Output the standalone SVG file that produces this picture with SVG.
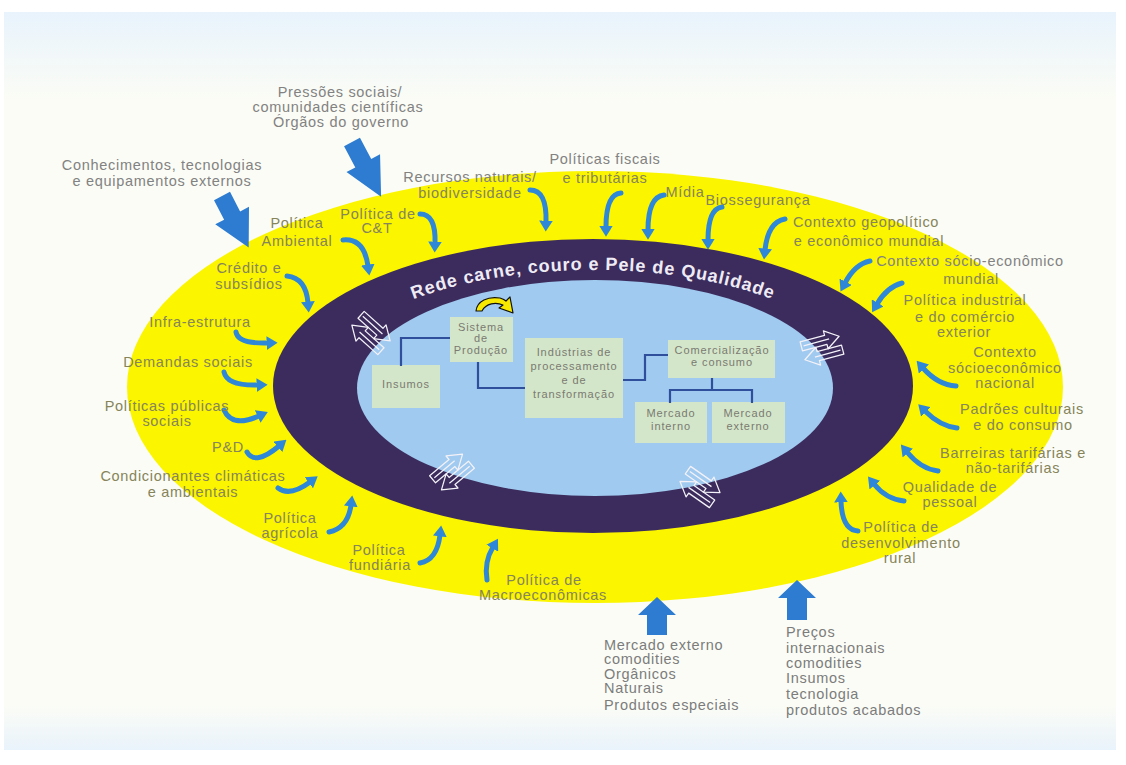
<svg xmlns="http://www.w3.org/2000/svg" width="1126" height="765" viewBox="0 0 1126 765">
<defs>
<style>
.lb{font-family:"Liberation Sans",Arial,sans-serif;font-size:14.5px;letter-spacing:0.7px;text-anchor:middle}
.w{fill:#828282}
.y{fill:#86845a}
.ls{font-family:"Liberation Sans",Arial,sans-serif;font-size:14.5px;letter-spacing:0.7px;fill:#7c7c7c}
.bx{fill:#d4e6c9}
.bt{font-family:"Liberation Sans",Arial,sans-serif;font-size:11px;letter-spacing:0.9px;fill:#7a7a72;text-anchor:middle}
.cn{fill:none;stroke:#2f4f9c;stroke-width:2.2}
.ba{fill:none;stroke:#2f87d8;stroke-width:5;stroke-linecap:round;marker-end:url(#ah)}
.big{fill:#2d7cd1}
.dw{fill:none;stroke:#f4f2f8;stroke-width:1.1;stroke-linejoin:round}
.title{font-family:"Liberation Sans",Arial,sans-serif;font-size:18px;font-weight:bold;letter-spacing:0.9px;fill:#efebf5}
</style>
<linearGradient id="pg" x1="0" y1="0" x2="0" y2="1">
<stop offset="0" stop-color="#e8f3fc"/>
<stop offset="0.06" stop-color="#f2f8f9"/>
<stop offset="0.12" stop-color="#fbfcf5"/>
<stop offset="0.94" stop-color="#fbfcf6"/>
<stop offset="1" stop-color="#e9f3fb"/>
</linearGradient>
<marker id="ah" viewBox="0 0 8 10" refX="1" refY="5" markerWidth="2.2" markerHeight="2.75" orient="auto" markerUnits="strokeWidth">
<path d="M0,0 L8,5 L0,10 z" fill="#2f87d8"/>
</marker>
<g id="dbl">
<path class="dw" d="M-17,-10 L5,-10 L5,-14 L17,-6 L5,2 L5,-2 L-17,-2 Z"/>
<path class="dw" d="M17,2 L-5,2 L-5,-2 L-17,6 L-5,14 L-5,10 L17,10 Z"/>
<path class="dw" d="M-15,-6 L8,-6 M15,6 L-8,6"/>
</g>
<path id="tp" d="M321,388 A272,118 0 0 1 865,388" fill="none"/>
</defs>

<rect width="1126" height="765" fill="#ffffff"/>
<rect x="4" y="12" width="1112" height="738" fill="url(#pg)"/>

<g id="rings">
<ellipse cx="595" cy="387" rx="468" ry="216" fill="#fbf500"/>
<ellipse cx="593" cy="386" rx="320" ry="147" fill="#3b2c5d"/>
<ellipse cx="595" cy="388" rx="238" ry="108" fill="#a0caef"/>
<text class="title"><textPath href="#tp" startOffset="50%" text-anchor="middle">Rede carne, couro e Pele de Qualidade</textPath></text>
</g>

<g id="exchange-arrows">
<use href="#dbl" transform="translate(371,333) rotate(42) scale(1.15)"/>
<use href="#dbl" transform="translate(822,348) rotate(-15) scale(1.15)"/>
<use href="#dbl" transform="translate(452,472) rotate(-40) scale(1.15)"/>
<use href="#dbl" transform="translate(700,487) rotate(35) scale(1.15)"/>
</g>

<g id="cycle-arrow">
<path d="M476,311 C477,301 488,296 500,298 C503,299 505,300 506,301 L510,297 L513,313 L499,308 L503,305 C496,302 486,303 482,311 Z" fill="#f7ea00" stroke="#111" stroke-width="1.2" stroke-linejoin="round"/>
</g>

<g id="node-insumos">
<rect class="bx" x="372" y="365" width="68" height="43"/>
<text class="bt" x="406" y="388">Insumos</text>
</g>
<g id="node-sistema">
<rect class="bx" x="450" y="317" width="63" height="45"/>
<text class="bt" x="481" y="331">Sistema</text>
<text class="bt" x="481" y="342">de</text>
<text class="bt" x="481" y="354">Produção</text>
</g>
<g id="node-industrias">
<rect class="bx" x="525" y="338" width="98" height="80"/>
<text class="bt" x="574" y="356">Indústrias de</text>
<text class="bt" x="574" y="370">processamento</text>
<text class="bt" x="574" y="384">e  de</text>
<text class="bt" x="574" y="398">transformação</text>
</g>
<g id="node-comercializacao">
<rect class="bx" x="668" y="340" width="107" height="38"/>
<text class="bt" x="722" y="354">Comercialização</text>
<text class="bt" x="722" y="366">e consumo</text>
</g>
<g id="node-mercado-interno">
<rect class="bx" x="635" y="402" width="72" height="41"/>
<text class="bt" x="671" y="417">Mercado</text>
<text class="bt" x="671" y="430">interno</text>
</g>
<g id="node-mercado-externo">
<rect class="bx" x="712" y="402" width="73" height="41"/>
<text class="bt" x="748" y="417">Mercado</text>
<text class="bt" x="748" y="430">externo</text>
</g>

<g id="connectors">
<polyline class="cn" points="450,338 401,338 401,366"/>
<polyline class="cn" points="478,362 478,388 525,388"/>
<polyline class="cn" points="623,380 645,380 645,355 668,355"/>
<polyline class="cn" points="712,378 712,390"/>
<polyline class="cn" points="670,403 670,390 752,390 752,403"/>

<path class="big" d="M0,-9 L22,-9 L22,-19 L58,0 L22,19 L22,9 L0,9 Z" transform="translate(222,196) rotate(62.6)"/>
<path class="big" d="M0,-9 L24,-9 L24,-19 L62,0 L24,19 L24,9 L0,9 Z" transform="translate(352,142) rotate(62)"/>
<path class="big" d="M647,635 L647,615 L638,615 L657,597 L676,615 L667,615 L667,635 Z"/>
<path class="big" d="M787,620 L787,598 L778,598 L797,580 L816,598 L807,598 L807,620 Z"/>

<path class="ba" d="M343,240 Q364,238 368,266"/>
<path class="ba" d="M420,214 Q436,214 435,243"/>
<path class="ba" d="M287,276 Q306,278 308,303"/>
<path class="ba" d="M530,190 Q547,190 546,222"/>
<path class="ba" d="M621,193 Q606,194 606,227"/>
<path class="ba" d="M664,195 Q648,197 648,230"/>
<path class="ba" d="M722,207 Q708,209 708,240"/>
<path class="ba" d="M785,219 Q768,222 765,250"/>
<path class="ba" d="M870,261 Q855,264 845,283"/>
<path class="ba" d="M902,283 Q887,287 877,304"/>
<path class="ba" d="M956,386 Q938,385 923,368"/>
<path class="ba" d="M957,428 Q940,426 925,411"/>
<path class="ba" d="M938,471 Q921,469 907,452"/>
<path class="ba" d="M904,501 Q886,499 874,484"/>
<path class="ba" d="M858,531 Q842,530 841,501"/>
<path class="ba" d="M236,332 Q238,344 268,343"/>
<path class="ba" d="M224,372 Q227,386 258,385"/>
<path class="ba" d="M224,410 Q232,428 259,416"/>
<path class="ba" d="M247,452 Q255,466 279,446"/>
<path class="ba" d="M278,488 Q290,497 310,482"/>
<path class="ba" d="M329,532 Q348,528 351,505"/>
<path class="ba" d="M420,563 Q437,560 440,535"/>
<path class="ba" d="M487,580 Q484,562 493,547"/>
</g>

<g id="label-pressoes">
<text class="lb w" x="340" y="97">Pressões sociais/</text>
<text class="lb w" x="338" y="112">comunidades científicas</text>
<text class="lb w" x="341" y="127">Órgãos do governo</text>
</g>
<g id="label-conhecimentos">
<text class="lb w" x="162" y="170">Conhecimentos, tecnologias</text>
<text class="lb w" x="162" y="186">e equipamentos externos</text>
</g>
<g id="label-ambiental">
<text class="lb y" x="297" y="228">Política</text>
<text class="lb y" x="297" y="246">Ambiental</text>
</g>
<g id="label-ct">
<text class="lb y" x="378" y="219">Política de</text>
<text class="lb y" x="377" y="233">C&amp;T</text>
</g>
<g id="label-credito">
<text class="lb y" x="249" y="273">Crédito e</text>
<text class="lb y" x="249" y="289">subsídios</text>
</g>
<g id="label-recursos">
<text class="lb w" x="470" y="182">Recursos naturais/</text>
<text class="lb y" x="470" y="198">biodiversidade</text>
</g>
<g id="label-fiscais">
<text class="lb w" x="605" y="164">Políticas fiscais</text>
<text class="lb y" x="605" y="183">e tributárias</text>
</g>
<g id="label-midia">
<text class="lb y" x="685" y="197">Mídia</text>
</g>
<g id="label-bio">
<text class="lb y" x="758" y="205">Biossegurança</text>
</g>
<g id="label-geopolitico">
<text class="lb y" x="866" y="227">Contexto geopolítico</text>
<text class="lb y" x="869" y="246">e econômico mundial</text>
</g>
<g id="label-socio-mundial">
<text class="lb w" x="970" y="266">Contexto sócio-econômico</text>
<text class="lb y" x="971" y="284">mundial</text>
</g>
<g id="label-industrial">
<text class="lb y" x="965" y="305">Política industrial</text>
<text class="lb y" x="965" y="322">e do comércio</text>
<text class="lb y" x="964" y="337">exterior</text>
</g>
<g id="label-nacional">
<text class="lb y" x="1005" y="357">Contexto</text>
<text class="lb y" x="1005" y="373">sócioeconômico</text>
<text class="lb y" x="1005" y="388">nacional</text>
</g>
<g id="label-padroes">
<text class="lb y" x="1022" y="414">Padrões culturais</text>
<text class="lb y" x="1023" y="430">e do consumo</text>
</g>
<g id="label-barreiras">
<text class="lb y" x="1013" y="458">Barreiras tarifárias e</text>
<text class="lb y" x="1013" y="473">não-tarifárias</text>
</g>
<g id="label-qualidade">
<text class="lb y" x="950" y="492">Qualidade de</text>
<text class="lb y" x="950" y="507">pessoal</text>
</g>
<g id="label-rural">
<text class="lb y" x="901" y="532">Política de</text>
<text class="lb y" x="901" y="548">desenvolvimento</text>
<text class="lb y" x="900" y="563">rural</text>
</g>
<g id="label-infra">
<text class="lb y" x="200" y="327">Infra-estrutura</text>
</g>
<g id="label-demandas">
<text class="lb y" x="188" y="367">Demandas sociais</text>
</g>
<g id="label-publicas">
<text class="lb y" x="167" y="411">Políticas públicas</text>
<text class="lb y" x="167" y="426">sociais</text>
</g>
<g id="label-pd">
<text class="lb y" x="228" y="452">P&amp;D</text>
</g>
<g id="label-condicionantes">
<text class="lb y" x="193" y="481">Condicionantes climáticas</text>
<text class="lb y" x="193" y="497">e ambientais</text>
</g>
<g id="label-agricola">
<text class="lb y" x="290" y="523">Política</text>
<text class="lb y" x="290" y="538">agrícola</text>
</g>
<g id="label-fundiaria">
<text class="lb y" x="379" y="555">Política</text>
<text class="lb y" x="380" y="570">fundiária</text>
</g>
<g id="label-macro">
<text class="lb y" x="544" y="585">Política de</text>
<text class="lb y" x="543" y="600">Macroeconômicas</text>
</g>
<g id="label-mercado-externo">
<text class="ls" x="604" y="650">Mercado externo</text>
<text class="ls" x="604" y="664">comodities</text>
<text class="ls" x="604" y="679">Orgânicos</text>
<text class="ls" x="604" y="693">Naturais</text>
<text class="ls" x="604" y="710">Produtos especiais</text>
</g>
<g id="label-precos">
<text class="ls" x="786" y="637">Preços</text>
<text class="ls" x="786" y="653">internacionais</text>
<text class="ls" x="786" y="668">comodities</text>
<text class="ls" x="786" y="683">Insumos</text>
<text class="ls" x="786" y="699">tecnologia</text>
<text class="ls" x="786" y="715">produtos acabados</text>
</g>
</svg>
